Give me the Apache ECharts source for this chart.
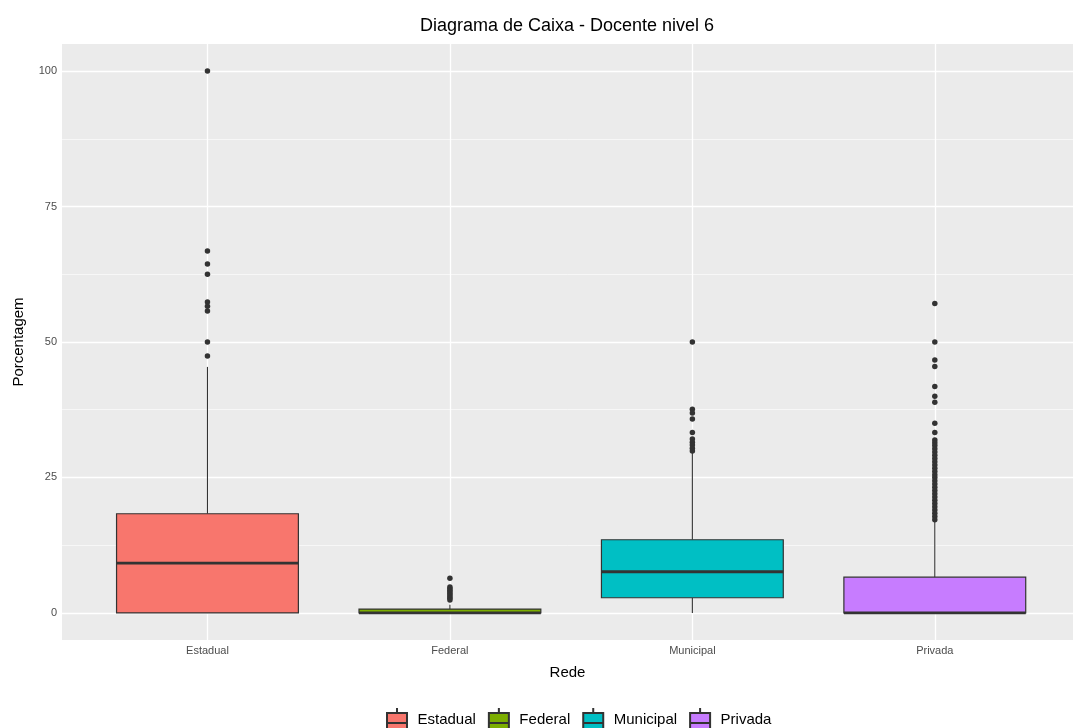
<!DOCTYPE html>
<html>
<head>
<meta charset="utf-8">
<script src="https://cdn.jsdelivr.net/npm/echarts@6/dist/echarts.min.js"></script>
<style>html,body{margin:0;padding:0;background:#fff;}#c{width:1073px;height:728px;}</style>
</head>
<body>
<div id="c"></div>
<script>
const categories = ['Estadual', 'Federal', 'Municipal', 'Privada'];
const colors = ['#F8766D', '#7CAE00', '#00BFC4', '#C77CFF'];
// [lower whisker, Q1, median, Q3, upper whisker]
const statsEstadual = [0, 0, 9.2, 18.3, 45.4];
const statsFederal = [0, 0, 0, 0.7, 1.5];
const statsMunicipal = [0, 2.8, 7.6, 13.5, 29.5];
const statsPrivada = [0, 0, 0, 6.6, 16.8];
const outEstadual = [100, 66.8, 64.4, 62.5, 57.4, 56.6, 55.7, 50, 47.4];
const outFederal = [6.4, 4.8, 4.5, 4.2, 3.9, 3.6, 3.3, 3.0, 2.7, 2.4];
const outMunicipal = [50, 37.6, 36.9, 35.8, 33.3, 32.1, 31.5, 31.0, 30.4, 29.9];
const outPrivada = [57.1, 50, 46.7, 45.5, 41.8, 40.0, 38.9, 35.0, 33.3, 31.9, 31.4, 30.9, 30.3, 29.7, 29.1, 28.5,
  27.9, 27.3, 26.7, 26.1, 25.5, 25.0, 24.4, 23.8, 23.2, 22.6, 22.0, 21.4, 20.8, 20.2, 19.6, 19.0, 18.4, 17.8, 17.2];
const yMajorTicks = [0, 25, 50, 75, 100];
const yMinorTicks = [12.5, 37.5, 62.5, 87.5];
const xTicks = [0, 1, 2, 3];

const allStats = [statsEstadual, statsFederal, statsMunicipal, statsPrivada];
const allOut = [outEstadual, outFederal, outMunicipal, outPrivada];
const boxData = allStats.map((s, i) => [i].concat(s));
const outData = [];
allOut.forEach((arr, i) => arr.forEach(v => outData.push([i, v])));

const FONT = 'Liberation Sans, Arial, sans-serif';

function renderBox(params, api) {
  const i = api.value(0);
  const lo = api.coord([i, api.value(1)]);
  const q1 = api.coord([i, api.value(2)]);
  const med = api.coord([i, api.value(3)]);
  const q3 = api.coord([i, api.value(4)]);
  const hi = api.coord([i, api.value(5)]);
  const bw = api.size([1, 0])[0] * 0.75;
  const x = q1[0];
  const stroke = '#333333';
  return {
    type: 'group',
    children: [
      { type: 'line', shape: { x1: x, y1: q3[1], x2: x, y2: hi[1] }, style: { stroke: stroke, lineWidth: 1.1 } },
      { type: 'line', shape: { x1: x, y1: q1[1], x2: x, y2: lo[1] }, style: { stroke: stroke, lineWidth: 1.1 } },
      { type: 'rect', shape: { x: x - bw / 2, y: q3[1], width: bw, height: q1[1] - q3[1] },
        style: { fill: colors[i], stroke: stroke, lineWidth: 1.2 } },
      { type: 'line', shape: { x1: x - bw / 2, y1: med[1], x2: x + bw / 2, y2: med[1] }, style: { stroke: stroke, lineWidth: 2.8 } }
    ]
  };
}

const gridLines = yMajorTicks.map(v => ({ yAxis: v, lineStyle: { width: 1.3 } }))
  .concat(yMinorTicks.map(v => ({ yAxis: v, lineStyle: { width: 0.6 } })))
  .concat(xTicks.map(v => ({ xAxis: v, lineStyle: { width: 1.3 } })));

const legendIcon = 'path://M0,5 L20,5 L20,24 L0,24 Z M0,15 L20,15 M10,5 L10,0';

const chart = echarts.init(document.getElementById('c'), null, { renderer: 'canvas' });
chart.setOption({
  animation: false,
  backgroundColor: '#ffffff',
  textStyle: { fontFamily: FONT },
  graphic: [{
    type: 'text', x: 567, y: 17, z: 10,
    style: { text: 'Diagrama de Caixa - Docente nivel 6', textAlign: 'center', fill: '#000', font: '18px ' + FONT }
  }],
  grid: {
    left: 62, right: 0, top: 44, bottom: 88,
    show: true, backgroundColor: '#EBEBEB', borderWidth: 0,
    containLabel: false, outerBoundsMode: 'none'
  },
  xAxis: {
    type: 'value', min: -0.6, max: 3.57,
    name: 'Rede', nameLocation: 'middle', nameGap: 25,
    nameTextStyle: { fontSize: 15, color: '#000', fontFamily: FONT },
    axisLine: { show: false },
    axisTick: { show: true, length: 3, lineStyle: { color: '#333', width: 1 }, customValues: xTicks },
    axisLabel: { color: '#4D4D4D', fontSize: 11, margin: 5, customValues: xTicks,
      formatter: v => categories[Math.round(v)] || '' },
    splitLine: { show: false }
  },
  yAxis: {
    type: 'value', min: -5, max: 105,
    name: 'Porcentagem', nameLocation: 'middle', nameGap: 36,
    nameTextStyle: { fontSize: 15, color: '#000', fontFamily: FONT },
    axisLine: { show: false },
    axisTick: { show: true, length: 3, lineStyle: { color: '#333', width: 1 }, customValues: yMajorTicks },
    axisLabel: { color: '#4D4D4D', fontSize: 11, margin: 5, customValues: yMajorTicks },
    splitLine: { show: false }
  },
  legend: {
    left: 381, top: 702, itemWidth: 21, itemHeight: 24, itemGap: 12,
    textStyle: { fontSize: 15, color: '#000', fontFamily: FONT, padding: [0, 0, 0, 5] },
    selectedMode: false,
    data: categories.map(c => ({ name: c, icon: legendIcon }))
  },
  series: [
    {
      type: 'scatter', data: [], silent: true, z: 1,
      markLine: {
        z: 1, silent: true, symbol: ['none', 'none'], label: { show: false },
        lineStyle: { color: '#ffffff', type: 'solid' },
        data: gridLines
      }
    },
    {
      type: 'custom', renderItem: renderBox, data: boxData, z: 3, silent: true,
      encode: { x: 0, y: [1, 2, 3, 4, 5] }
    },
    {
      type: 'scatter', data: outData, symbolSize: 5.5, z: 4, silent: true,
      itemStyle: { color: '#333333', opacity: 1 }
    }
  ].concat(categories.map((c, i) => ({
    name: c, type: 'scatter', data: [],
    itemStyle: { color: colors[i], borderColor: '#333333', borderWidth: 1, opacity: 1 }
  })))
});
</script>
</body>
</html>
